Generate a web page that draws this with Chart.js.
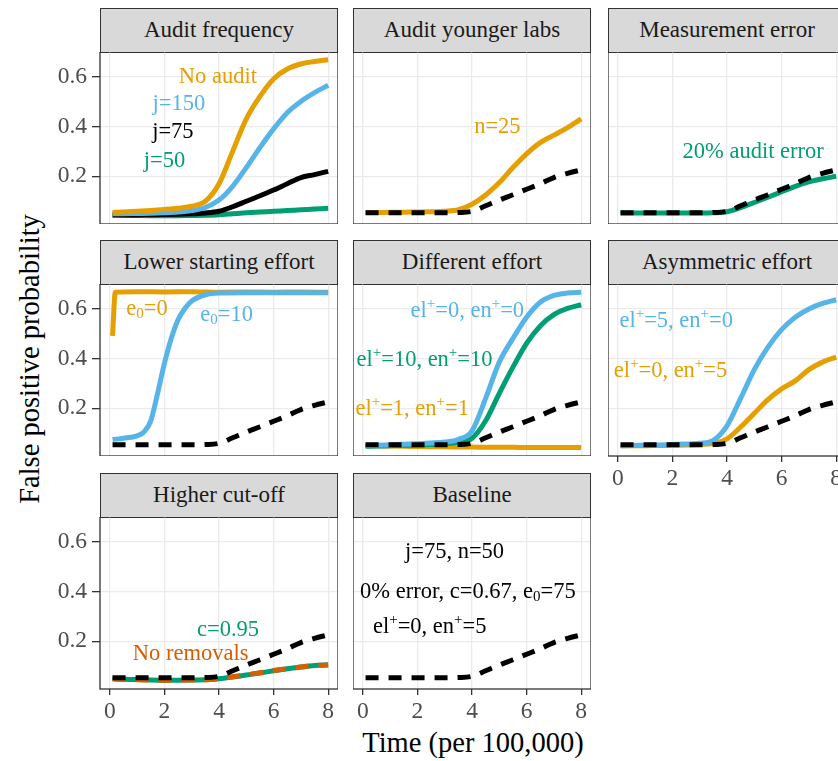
<!DOCTYPE html>
<html>
<head>
<meta charset="utf-8">
<script src="https://cdn.jsdelivr.net/npm/chart.js@4.4.1/dist/chart.umd.min.js"></script>
<style>
  body { margin:0; width:838px; height:761px; overflow:hidden; background:#fff; position:relative; font-family:'Liberation Serif','DejaVu Serif',serif; }
  canvas { position:absolute; }
  .strip { position:absolute; box-sizing:border-box; border:1.3px solid #333; background:#D9D9D9; color:#1A1A1A;
           font-size:23px; text-align:center; line-height:41px; }
  .axt { position:absolute; color:#000; font-size:28.5px; white-space:nowrap; }
</style>
</head>
<body>
<div class="axt" id="xt" style="left:0;width:946px;top:727px;text-align:center">Time (per 100,000)</div>
<div class="axt" id="yt" style="left:30px;top:359px;transform:translate(-50%,-50%) rotate(-90deg)">False positive probability</div>
<script>
// time points (per 100,000)
const time = [0.1,0.5,1,1.5,2,2.5,3,3.5,4,4.5,5,5.5,6,6.5,7,7.5,8];
const timeE0Ten = [0.1,0.5,1,1.25,1.5,1.75,2,2.25,2.5,2.75,3,3.5,4,5,6,7,8];
const timeE0Zero = [0.1,0.2,1,2,3,4,5,6,7,8];

const baseline   = [.054,.054,.054,.054,.054,.054,.054,.055,.060,.082,.105,.126,.148,.170,.195,.212,.226];
// audit frequency
const noAudit    = [.055,.057,.060,.063,.067,.072,.080,.100,.170,.300,.430,.520,.590,.630,.650,.660,.667];
const j150       = [.050,.050,.051,.052,.054,.057,.063,.075,.105,.160,.235,.315,.390,.455,.500,.535,.565];
const j75        = [.045,.045,.045,.046,.047,.048,.050,.053,.060,.078,.100,.122,.145,.170,.195,.207,.220];
const j50        = [.045,.044,.043,.042,.042,.042,.043,.044,.046,.050,.054,.057,.060,.063,.066,.069,.072];
// audit younger labs
const n25        = [.055,.055,.056,.056,.057,.058,.060,.066,.088,.125,.175,.235,.290,.335,.365,.395,.430];
// measurement error
const err20      = [.053,.053,.053,.053,.053,.053,.053,.054,.058,.075,.095,.116,.138,.160,.178,.190,.200];
// lower starting effort
const e0Ten      = [.075,.080,.090,.105,.150,.260,.380,.480,.555,.600,.630,.655,.662,.663,.663,.663,.663];
const e0Zero     = [.490,.665,.667,.666,.667,.665,.666,.665,.666,.665];
// different effort
const effZero    = [.050,.052,.054,.056,.058,.061,.065,.075,.110,.240,.385,.480,.565,.625,.652,.662,.665];
const effTen     = [.048,.049,.050,.052,.053,.055,.058,.064,.080,.150,.260,.365,.460,.530,.575,.600,.615];
const effOne     = [.050,.050,.049,.048,.047,.046,.046,.045,.045,.044,.044,.044,.043,.043,.043,.043,.043];
// asymmetric effort
const asymLab    = [.050,.051,.052,.053,.055,.057,.060,.072,.130,.240,.355,.445,.515,.565,.598,.620,.635];
const asymNull   = [.050,.050,.050,.051,.052,.053,.055,.060,.078,.125,.180,.235,.278,.310,.355,.385,.405];
// higher cut-off
const cut95      = [.050,.048,.047,.045,.044,.044,.045,.046,.050,.057,.065,.073,.082,.090,.097,.103,.106];
const noRemovals = [.050,.048,.046,.045,.044,.044,.045,.046,.051,.058,.066,.074,.083,.090,.097,.103,.105];

const xTicks = [0,2,4,6,8];
const yTicks = [0.2,0.4,0.6];

const C = {orange:'#E69F00', blue:'#56B4E9', green:'#009E73', red:'#D55E00', black:'#000000'};

const panels = [
  {title:'Audit frequency', col:0, row:0,
   lines:[[noAudit,C.orange],[j150,C.blue],[j75,C.black],[j50,C.green]],
   notes:[['No audit',3.96,.596,C.orange],['j=150',2.53,.488,C.blue],['j=75',2.31,.376,C.black],['j=50',2.0,.26,C.green]]},
  {title:'Audit younger labs', col:1, row:0,
   lines:[[baseline,C.black,true],[n25,C.orange]],
   notes:[['n=25',4.93,.396,C.orange]]},
  {title:'Measurement error', col:2, row:0,
   lines:[[baseline,C.black,true],[err20,C.green]],
   notes:[['20% audit error',4.96,.296,C.green]]},
  {title:'Lower starting effort', col:0, row:1,
   lines:[[baseline,C.black,true],[e0Ten,C.blue,false,timeE0Ten],[e0Zero,C.orange,false,timeE0Zero]],
   notes:[['e_0=0',1.36,.596,C.orange],['e_0=10',4.28,.572,C.blue]]},
  {title:'Different effort', col:1, row:1,
   lines:[[baseline,C.black,true],[effZero,C.blue],[effTen,C.green],[effOne,C.orange]],
   notes:[['el^+=0, en^+=0',3.83,.588,C.blue],['el^+=10, en^+=10',2.26,.393,C.green],['el^+=1, en^+=1',1.81,.196,C.orange]]},
  {title:'Asymmetric effort', col:2, row:1, showX:true,
   lines:[[baseline,C.black,true],[asymLab,C.blue],[asymNull,C.orange]],
   notes:[['el^+=5, en^+=0',2.14,.549,C.blue],['el^+=0, en^+=5',1.93,.349,C.orange]]},
  {title:'Higher cut-off', col:0, row:2, showX:true,
   lines:[[baseline,C.black,true],[noRemovals,C.red,true],[cut95,C.green]],
   notes:[['c=0.95',4.33,.244,C.green],['No removals',2.96,.147,C.red]]},
  {title:'Baseline', col:1, row:2, showX:true,
   lines:[[baseline,C.black,true]],
   notes:[['j=75, n=50',3.36,.557,C.black],['0% error, c=0.67, e_0=75',3.85,.397,C.black],['el^+=0, en^+=5',2.45,.257,C.black]]}
];

const colLeft = [100, 353, 608], panelW = 238;
const stripTop = [8, 240, 473], stripH = 44, plotH = 172;
const FONT = "'Liberation Serif','DejaVu Serif',serif";

function segs(s) {
  const out = []; let buf = '';
  for (let i = 0; i < s.length; i++) {
    const c = s[i];
    if ((c === '^' || c === '_') && i + 1 < s.length) {
      if (buf) out.push({t:buf, m:0});
      buf = '';
      out.push({t:s[i+1], m: c === '^' ? 1 : -1});
      i++;
    } else buf += c;
  }
  if (buf) out.push({t:buf, m:0});
  return out;
}

function drawRich(ctx, text, cx, cy, color) {
  const big = 22.5, small = 15;
  const parts = segs(text);
  let w = 0;
  parts.forEach(p => { ctx.font = (p.m ? small : big) + 'px ' + FONT; p.w = ctx.measureText(p.t).width; w += p.w; });
  let x = cx - w / 2;
  ctx.fillStyle = color;
  ctx.textBaseline = 'middle';
  ctx.textAlign = 'left';
  parts.forEach(p => {
    ctx.font = (p.m ? small : big) + 'px ' + FONT;
    const dy = p.m === 1 ? -7 : p.m === -1 ? 5 : 0;
    ctx.fillText(p.t, x, cy + dy);
    x += p.w;
  });
}

const panelDeco = {
  id: 'panelDeco',
  afterDatasetsDraw(chart, args, opts) {
    const {ctx, chartArea: a, scales: {x, y}} = chart;
    ctx.save();
    (opts.notes || []).forEach(n => drawRich(ctx, n[0], x.getPixelForValue(n[1]), y.getPixelForValue(n[2]), n[3]));
    ctx.strokeStyle = '#333';
    ctx.lineWidth = 1.3;
    ctx.strokeRect(a.left, a.top, a.width, a.height);
    ctx.restore();
  }
};

panels.forEach((p, k) => {
  const L = p.col === 0 ? 60 : 0;
  const B = p.showX ? 45 : 0;
  const strip = document.createElement('div');
  strip.className = 'strip';
  strip.style.left = colLeft[p.col] + 'px';
  strip.style.top = stripTop[p.row] + 'px';
  strip.style.width = panelW + 'px';
  strip.style.height = (stripH + 1) + 'px';
  strip.textContent = p.title;
  document.body.appendChild(strip);

  const cv = document.createElement('canvas');
  cv.id = 'panel' + k;
  cv.width = panelW + L;
  cv.height = plotH + B;
  cv.style.left = (colLeft[p.col] - L) + 'px';
  cv.style.top = (stripTop[p.row] + stripH) + 'px';
  document.body.appendChild(cv);

  const datasets = p.lines.map(l => ({
    data: (l[3] || time).map((t, i) => ({x: t, y: l[0][i]})),
    borderColor: l[1],
    borderWidth: 5,
    borderDash: l[2] ? [13, 10] : [],
    borderCapStyle: 'butt',
    borderJoinStyle: 'round',
    pointRadius: 0,
    fill: false,
    cubicInterpolationMode: 'monotone'
  }));

  new Chart(cv, {
    type: 'line',
    data: {datasets},
    options: {
      responsive: false,
      animation: false,
      devicePixelRatio: 1,
      layout: {padding: 0},
      plugins: {legend: {display: false}, tooltip: {enabled: false}, panelDeco: {notes: p.notes}},
      scales: {
        x: {
          type: 'linear', min: -0.36, max: 8.36,
          afterBuildTicks: s => { s.ticks = xTicks.map(v => ({value: v})); },
          afterFit: s => { s.height = B; s.paddingLeft = 0; s.paddingRight = 0; },
          ticks: {display: !!p.showX, color: '#4D4D4D', font: {family: FONT, size: 23.5}, padding: 3, maxRotation: 0},
          grid: {color: '#EBEBEB', lineWidth: 1.3, drawTicks: !!p.showX, tickLength: 6, tickColor: '#333', tickWidth: 1.3},
          border: {display: false}
        },
        y: {
          type: 'linear', min: 0.009, max: 0.698,
          afterBuildTicks: s => { s.ticks = yTicks.map(v => ({value: v})); },
          afterFit: s => { s.width = L; s.paddingTop = 0; s.paddingBottom = 0; },
          ticks: {display: p.col === 0, color: '#4D4D4D', font: {family: FONT, size: 23.5}, padding: 5,
                  callback: v => v.toFixed(1)},
          grid: {color: '#EBEBEB', lineWidth: 1.3, drawTicks: p.col === 0, tickLength: 8, tickColor: '#333', tickWidth: 1.3},
          border: {display: false}
        }
      }
    },
    plugins: [panelDeco]
  });
});
</script>
</body>
</html>
